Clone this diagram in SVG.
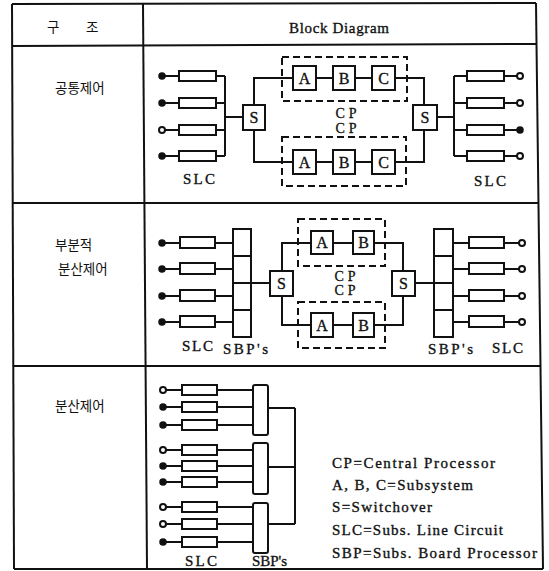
<svg xmlns="http://www.w3.org/2000/svg" width="549" height="571" viewBox="0 0 549 571">
<style>
.ln{fill:none;stroke:#111;stroke-width:2}
.bx{fill:#fff;stroke:#111;stroke-width:2}
.ds{fill:none;stroke:#111;stroke-width:2;stroke-dasharray:7,4}
.df{fill:#111;stroke:#111;stroke-width:1.5}
.dh{fill:#fff;stroke:#111;stroke-width:2}
.t{font-family:"Liberation Serif","Times New Roman",serif;font-size:15px;fill:#111;stroke:#111;stroke-width:0.35}
.tc{font-family:"Liberation Serif","Times New Roman",serif;font-size:16px;fill:#111;stroke:#111;stroke-width:0.35;text-anchor:middle}
.cp{font-family:"Liberation Serif","Times New Roman",serif;font-size:14px;fill:#111;stroke:#111;stroke-width:0.3;text-anchor:middle}
.k{font-family:"Noto Sans CJK KR","Noto Sans",sans-serif;font-size:13.5px;fill:#111}
</style>
<rect width="549" height="571" fill="#fff"/>
<g id="table" class="ln">
<path d="M12,4 L536,3"/>
<path d="M12,4 L14,569"/>
<path d="M536,3 L543,569"/>
<path d="M143,4 L147,569"/>
<path d="M12,46 L537,44"/>
<path d="M13,203 L538,203"/>
<path d="M13,366 L540,366"/>
<path d="M14,569 L543,569"/>
</g>
<g id="headers">
<text class="k" x="47" y="32">구</text>
<text class="k" x="86" y="32">조</text>
<text class="t" x="289" y="33" textLength="100" lengthAdjust="spacing">Block Diagram</text>
<text class="k" x="55" y="93">공통제어</text>
<text class="k" x="55" y="250">부분적</text>
<text class="k" x="58" y="274">분산제어</text>
<text class="k" x="55" y="411">분산제어</text>
</g>
<g id="connectors" class="ln">
<path d="M162,76 H179 M162,103 H179 M162,130 H179 M162,156 H179"/>
<path d="M216,76 H225 M216,103 H225 M216,130 H225 M216,156 H225 M225,76 V156 M225,117 H243"/>
<path d="M254,105 V78 H293 M316,78 H333 M355,78 H372 M395,78 H424 V105"/>
<path d="M254,130 V162 H293 M316,162 H333 M355,162 H372 M395,162 H424 V130"/>
<path d="M437,117 H454 M454,76 V156 M454,76 H467 M454,103 H467 M454,130 H467 M454,156 H467"/>
<path d="M504,76 H520 M504,103 H520 M504,130 H520 M504,156 H520"/>
<path d="M162,243 H180 M162,269 H180 M162,296 H180 M162,322 H180"/>
<path d="M215,243 H233 M215,269 H233 M215,296 H233 M215,322 H233"/>
<path d="M251,283 H270"/>
<path d="M282,271 V243 H311 M333,243 H353 M374,243 H403 V271"/>
<path d="M282,296 V325 H311 M333,325 H353 M374,325 H403 V296"/>
<path d="M415,283 H434"/>
<path d="M453,243 H469 M453,269 H469 M453,296 H469 M453,322 H469"/>
<path d="M504,243 H522 M504,269 H522 M504,296 H522 M504,322 H522"/>
<path d="M163,390 H182 M163,407 H182 M163,425 H182 M163,450 H182 M163,466 H182 M163,482 H182 M163,507 H182 M163,524 H182 M163,542 H182"/>
<path d="M217,390 H253 M217,407 H253 M217,425 H253 M217,450 H253 M217,466 H253 M217,482 H253 M217,507 H253 M217,524 H253 M217,542 H253"/>
<path d="M268,408 H295 M268,467 H295 M268,524 H295 M295,408 V524"/>
</g>
<g id="s1-slc-left">
<rect class="bx" x="179" y="71" width="37" height="10"/>
<rect class="bx" x="179" y="98" width="37" height="10"/>
<rect class="bx" x="179" y="125" width="37" height="10"/>
<rect class="bx" x="179" y="151" width="37" height="10"/>
<circle class="df" cx="162" cy="76" r="3"/>
<circle class="df" cx="162" cy="103" r="3"/>
<circle class="dh" cx="162" cy="130" r="3"/>
<circle class="df" cx="162" cy="156" r="3"/>
<text class="t" x="183" y="184" textLength="32" lengthAdjust="spacing">SLC</text>
</g>
<g id="s1-switch-left">
<rect class="bx" x="243" y="105" width="22" height="25"/>
<text class="tc" x="254" y="123">S</text>
</g>
<g id="s1-cp-top">
<rect class="ds" x="282" y="57" width="125" height="44"/>
<rect class="bx" x="293" y="66" width="23" height="24"/>
<text class="tc" x="304.5" y="84">A</text>
<rect class="bx" x="333" y="66" width="22" height="24"/>
<text class="tc" x="344" y="84">B</text>
<rect class="bx" x="372" y="66" width="23" height="24"/>
<text class="tc" x="383.5" y="84">C</text>
</g>
<g id="s1-cp-labels">
<text class="cp" x="346" y="118" textLength="21" lengthAdjust="spacing">CP</text>
<text class="cp" x="346" y="133" textLength="21" lengthAdjust="spacing">CP</text>
</g>
<g id="s1-cp-bottom">
<rect class="ds" x="282" y="137" width="124" height="49"/>
<rect class="bx" x="293" y="150" width="23" height="24"/>
<text class="tc" x="304.5" y="168">A</text>
<rect class="bx" x="333" y="150" width="22" height="24"/>
<text class="tc" x="344" y="168">B</text>
<rect class="bx" x="372" y="150" width="23" height="24"/>
<text class="tc" x="383.5" y="168">C</text>
</g>
<g id="s1-switch-right">
<rect class="bx" x="413" y="105" width="24" height="25"/>
<text class="tc" x="425" y="123">S</text>
</g>
<g id="s1-slc-right">
<rect class="bx" x="467" y="71" width="37" height="10"/>
<rect class="bx" x="467" y="98" width="37" height="10"/>
<rect class="bx" x="467" y="125" width="37" height="10"/>
<rect class="bx" x="467" y="151" width="37" height="10"/>
<circle class="dh" cx="520" cy="76" r="3"/>
<circle class="dh" cx="520" cy="103" r="3"/>
<circle class="df" cx="520" cy="130" r="3"/>
<circle class="dh" cx="520" cy="156" r="3"/>
<text class="t" x="474" y="186" textLength="32" lengthAdjust="spacing">SLC</text>
</g>
<g id="s2-slc-left">
<rect class="bx" x="180" y="237" width="35" height="11"/>
<rect class="bx" x="180" y="263" width="35" height="11"/>
<rect class="bx" x="180" y="290" width="35" height="11"/>
<rect class="bx" x="180" y="316" width="35" height="11"/>
<circle class="df" cx="162" cy="243" r="3"/>
<circle class="df" cx="162" cy="269" r="3"/>
<circle class="df" cx="162" cy="296" r="3"/>
<circle class="df" cx="162" cy="322" r="3"/>
<text class="t" x="182" y="351" textLength="31" lengthAdjust="spacing">SLC</text>
</g>
<g id="s2-sbp-left">
<rect class="bx" x="233" y="229" width="18" height="108"/>
<path class="ln" d="M233,256 H251 M233,283 H251 M233,310 H251"/>
<text class="t" x="223" y="354" textLength="45" lengthAdjust="spacing">SBP's</text>
</g>
<g id="s2-switch-left">
<rect class="bx" x="270" y="271" width="23" height="25"/>
<text class="tc" x="281.5" y="289">S</text>
</g>
<g id="s2-cp-top">
<rect class="ds" x="298" y="219" width="87" height="47"/>
<rect class="bx" x="311" y="231" width="22" height="23"/>
<text class="tc" x="322" y="248">A</text>
<rect class="bx" x="353" y="231" width="21" height="23"/>
<text class="tc" x="363.5" y="248">B</text>
</g>
<g id="s2-cp-labels">
<text class="cp" x="345" y="281" textLength="21" lengthAdjust="spacing">CP</text>
<text class="cp" x="345" y="295" textLength="21" lengthAdjust="spacing">CP</text>
</g>
<g id="s2-cp-bottom">
<rect class="ds" x="298" y="302" width="87" height="46"/>
<rect class="bx" x="311" y="313" width="22" height="24"/>
<text class="tc" x="322" y="331">A</text>
<rect class="bx" x="353" y="313" width="21" height="24"/>
<text class="tc" x="363.5" y="331">B</text>
</g>
<g id="s2-switch-right">
<rect class="bx" x="392" y="271" width="23" height="25"/>
<text class="tc" x="403.5" y="289">S</text>
</g>
<g id="s2-sbp-right">
<rect class="bx" x="434" y="229" width="19" height="108"/>
<path class="ln" d="M434,256 H453 M434,283 H453 M434,310 H453"/>
<text class="t" x="428" y="354" textLength="45" lengthAdjust="spacing">SBP's</text>
</g>
<g id="s2-slc-right">
<rect class="bx" x="469" y="237" width="35" height="11"/>
<rect class="bx" x="469" y="263" width="35" height="11"/>
<rect class="bx" x="469" y="290" width="35" height="11"/>
<rect class="bx" x="469" y="316" width="35" height="11"/>
<circle class="dh" cx="522" cy="243" r="3"/>
<circle class="dh" cx="522" cy="269" r="3"/>
<circle class="dh" cx="522" cy="296" r="3"/>
<circle class="dh" cx="522" cy="322" r="3"/>
<text class="t" x="492" y="353" textLength="31" lengthAdjust="spacing">SLC</text>
</g>
<g id="s3-slc">
<rect class="bx" x="182" y="385" width="35" height="10"/>
<rect class="bx" x="182" y="402" width="35" height="10"/>
<rect class="bx" x="182" y="420" width="35" height="10"/>
<rect class="bx" x="182" y="445" width="35" height="10"/>
<rect class="bx" x="182" y="461" width="35" height="10"/>
<rect class="bx" x="182" y="477" width="35" height="10"/>
<rect class="bx" x="182" y="502" width="35" height="10"/>
<rect class="bx" x="182" y="519" width="35" height="10"/>
<rect class="bx" x="182" y="537" width="35" height="10"/>
<circle class="dh" cx="163" cy="390" r="3"/>
<circle class="df" cx="163" cy="407" r="3"/>
<circle class="df" cx="163" cy="425" r="3"/>
<circle class="dh" cx="163" cy="450" r="3"/>
<circle class="df" cx="163" cy="466" r="3"/>
<circle class="df" cx="163" cy="482" r="3"/>
<circle class="dh" cx="163" cy="507" r="3"/>
<circle class="dh" cx="163" cy="524" r="3"/>
<circle class="df" cx="163" cy="542" r="3"/>
<text class="t" x="185" y="566" textLength="32" lengthAdjust="spacing">SLC</text>
</g>
<g id="s3-sbp">
<rect class="bx" x="253" y="385" width="15" height="50" rx="2"/>
<rect class="bx" x="253" y="443" width="15" height="51" rx="2"/>
<rect class="bx" x="253" y="503" width="15" height="50" rx="2"/>
<text class="t" x="252" y="566" textLength="35" lengthAdjust="spacing">SBP's</text>
</g>
<g id="legend">
<text class="t" x="332" y="468" textLength="163" lengthAdjust="spacing">CP=Central Processor</text>
<text class="t" x="332" y="490" textLength="141" lengthAdjust="spacing">A, B, C=Subsystem</text>
<text class="t" x="332" y="512" textLength="100" lengthAdjust="spacing">S=Switchover</text>
<text class="t" x="332" y="535" textLength="171" lengthAdjust="spacing">SLC=Subs. Line Circuit</text>
<text class="t" x="332" y="558" textLength="205" lengthAdjust="spacing">SBP=Subs. Board Processor</text>
</g>
</svg>
